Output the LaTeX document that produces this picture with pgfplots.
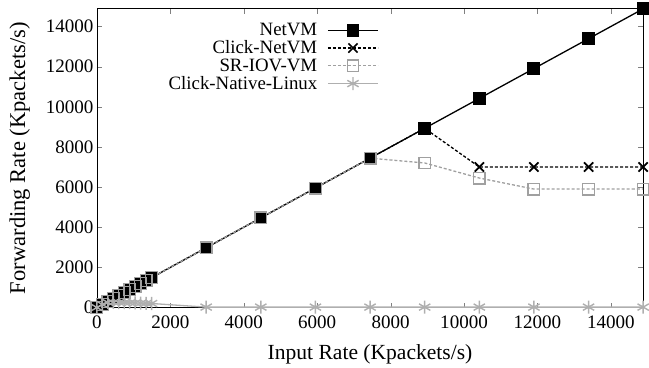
\documentclass[border=0pt]{standalone}
\usepackage{pgfplots}
\pgfplotsset{compat=1.18}
\usepackage{fontspec}
\setmainfont{Liberation Serif}
\definecolor{g1}{RGB}{160,160,160}
\definecolor{g2}{RGB}{175,175,175}
\begin{document}
\begin{tikzpicture}
\begin{axis}[
  scale only axis, width=545pt, height=298pt,
  xmin=0, xmax=14880, ymin=0, ymax=14880,
  xtick={0,2000,...,14000}, ytick={0,2000,...,14000},
  tick align=inside, tick pos=both, major tick length=5pt,
  /pgf/number format/assume math mode=true,
  /pgf/number format/set thousands separator={},
  scaled ticks=false,
  every tick label/.append style={font=\fontsize{19}{22}\selectfont},
  xticklabel style={yshift=-5pt},
  xlabel style={font=\fontsize{21.5}{24}\selectfont, yshift=-9pt},
  ylabel style={font=\fontsize{22.5}{25}\selectfont, yshift=9pt},
  legend style={font=\fontsize{18.8}{22}\selectfont},
  xlabel={Input Rate (Kpackets/s)},
  ylabel={Forwarding Rate (Kpackets/s)},
  axis line style={line width=0.8pt},
  legend plot pos=right,
  legend cell align=right,
  legend style={draw=none, fill=none, at={(0.518,0.962)}, anchor=north east, row sep=-0.5pt, inner sep=1pt,
    /tikz/every odd column/.append style={column sep=8pt}},
  legend image code/.code={\draw[mark repeat=2,mark phase=2] plot coordinates {(0pt,0pt)(25pt,0pt)(50pt,0pt)};},
]
\addplot[black, line width=1.3pt, mark=square*, mark size=5.8pt, mark options={solid, fill=black}] coordinates {
(0,0)(148.8,148.8)(297.6,297.6)(446.4,446.4)(595.2,595.2)(744,744)(892.8,892.8)(1041.6,1041.6)(1190.4,1190.4)(1339.2,1339.2)(1488,1488)
(2976,2976)(4464,4464)(5952,5952)(7440,7440)(8928,8928)(10416,10416)(11904,11904)(13392,13392)(14880,14880)};
\addlegendentry{NetVM}
\addplot[black, line width=1.3pt, densely dashed, mark=x, mark size=6.5pt, mark options={solid, line width=1.7pt}] coordinates {
(0,0)(148.8,148.8)(297.6,297.6)(446.4,446.4)(595.2,595.2)(744,744)(892.8,892.8)(1041.6,1041.6)(1190.4,1190.4)(1339.2,1339.2)(1488,1488)
(2976,2976)(4464,4464)(5952,5952)(7440,7440)(8928,8928)(10416,7000)(11904,7000)(13392,7000)(14880,7000)};
\addlegendentry{Click-NetVM}
\addplot[g1, line width=1.3pt, densely dashed, mark=square, mark size=5.8pt, mark options={solid, line width=1.3pt}] coordinates {
(0,0)(148.8,148.8)(297.6,297.6)(446.4,446.4)(595.2,595.2)(744,744)(892.8,892.8)(1041.6,1041.6)(1190.4,1190.4)(1339.2,1339.2)(1488,1488)
(2976,2976)(4464,4464)(5952,5952)(7440,7440)(8928,7200)(10416,6450)(11904,5900)(13392,5900)(14880,5900)};
\addlegendentry{SR-IOV-VM}
\addplot[g2, line width=1.3pt, mark=asterisk, mark size=6.5pt, mark options={solid, line width=1.4pt}] coordinates {
(0,0)(148.8,148.8)(297.6,250)(446.4,260)(595.2,250)(744,250)(892.8,240)(1041.6,230)(1190.4,220)(1339.2,210)(1488,200)
(2976,20)(4464,20)(5952,20)(7440,20)(8928,20)(10416,20)(11904,20)(13392,20)(14880,20)};
\addlegendentry{Click-Native-Linux}
\end{axis}
\path (current bounding box.north) ++(0,3pt);
\path (current bounding box.west) ++(-6pt,0);
\end{tikzpicture}
\end{document}
